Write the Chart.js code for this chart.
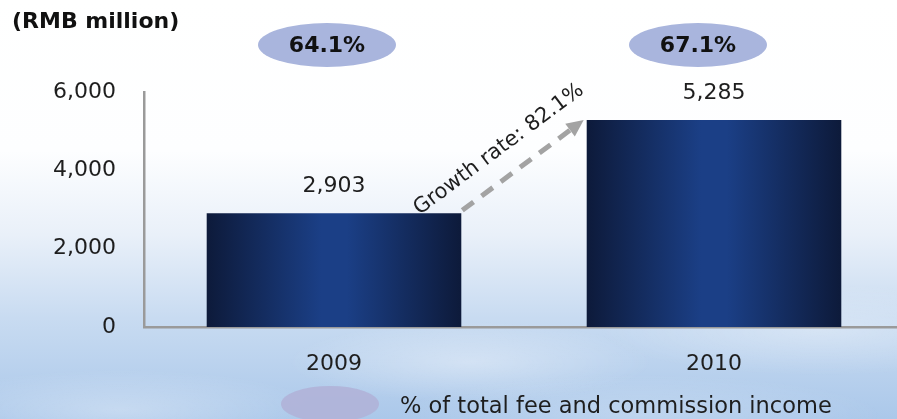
<!DOCTYPE html>
<html>
<head>
<meta charset="utf-8">
<script src="https://cdn.jsdelivr.net/npm/chart.js@4/dist/chart.umd.min.js"></script>
<style>
  html, body { margin: 0; padding: 0; width: 897px; height: 419px; overflow: hidden; }
  body {
    background:
      radial-gradient(ellipse 180px 40px at 470px 362px, rgba(255,255,255,0.35), rgba(255,255,255,0) 100%),
      radial-gradient(ellipse 220px 45px at 820px 330px, rgba(255,255,255,0.3), rgba(255,255,255,0) 100%),
      radial-gradient(ellipse 200px 40px at 120px 410px, rgba(255,255,255,0.3), rgba(255,255,255,0) 100%),
      radial-gradient(ellipse 240px 40px at 640px 415px, rgba(255,255,255,0.22), rgba(255,255,255,0) 100%),
      linear-gradient(to bottom, #ffffff 0%, #fdfeff 36%, #e9f0f9 56%, #c8dbf1 76%, #abc8ea 100%);
  }
  #wrap { position: absolute; left: 0; top: 0; width: 904px; height: 419px; }
</style>
</head>
<body>
<div id="wrap"><canvas id="c" width="904" height="419"></canvas></div>
<script>
// Fee and commission income (RMB million)
const years = ['2009', '2010'];
const income = [2903, 5285];
const shareOfTotal = ['64.1%', '67.1%'];
const growthRate = '82.1%';
const yTicks = [0, 2000, 4000, 6000];
const unitLabel = '(RMB million)';
const legendLabel = '% of total fee and commission income';

const FONT = '"DejaVu Sans", "Noto Sans", sans-serif';
const TEXT = '#1e1e1e';
const AXIS_GREY = '#9a9a9a';
const BAR_FRACTION = 0.67;

// horizontal cylinder-like shading for each bar
function barShade(c) {
  const chart = c.chart;
  if (!chart.chartArea) return '#142d62';
  const xs = chart.scales.x;
  const cx = xs.getPixelForValue(c.dataIndex);
  const half = (xs.width / years.length) * BAR_FRACTION / 2;
  const g = chart.ctx.createLinearGradient(cx - half, 0, cx + half, 0);
  g.addColorStop(0, '#0d1a3a');
  g.addColorStop(0.45, '#1b3f86');
  g.addColorStop(0.55, '#1b3f86');
  g.addColorStop(1, '#0d1a3a');
  return g;
}

const decorations = {
  id: 'decorations',
  afterDatasetsDraw(chart) {
    const ctx = chart.ctx;
    const bars = chart.getDatasetMeta(0).data;

    ctx.save();
    // unit label
    ctx.fillStyle = '#111';
    ctx.font = 'bold 22px ' + FONT;
    ctx.textAlign = 'left';
    ctx.textBaseline = 'middle';
    ctx.fillText(unitLabel, 12, 22);

    // value labels above bars
    ctx.font = '22px ' + FONT;
    ctx.textAlign = 'center';
    ctx.fillStyle = TEXT;
    bars.forEach((el, i) => {
      ctx.fillText(income[i].toLocaleString('en-US'), el.x, el.y - 27);
    });

    // share-of-total ellipses
    const shift = [-7, -16];
    bars.forEach((el, i) => {
      const cx = el.x + shift[i], cy = 45;
      ctx.beginPath();
      ctx.ellipse(cx, cy, 69, 22, 0, 0, Math.PI * 2);
      ctx.fillStyle = '#a9b5dd';
      ctx.fill();
      ctx.fillStyle = '#111';
      ctx.font = 'bold 22px ' + FONT;
      ctx.fillText(shareOfTotal[i], cx, cy + 1);
    });

    // growth arrow between the bars
    const a = bars[0], b = bars[1];
    const x0 = a.x + a.width / 2 + 1, y0 = a.y - 3;
    const x1 = b.x - b.width / 2 - 3, y1 = b.y;
    const ang = Math.atan2(y1 - y0, x1 - x0);
    const len = Math.hypot(x1 - x0, y1 - y0);
    ctx.translate(x0, y0);
    ctx.rotate(ang);
    ctx.strokeStyle = '#a3a3a3';
    ctx.lineWidth = 5;
    ctx.setLineDash([14, 10]);
    ctx.beginPath();
    ctx.moveTo(0, 0);
    ctx.lineTo(len - 14, 0);
    ctx.stroke();
    ctx.setLineDash([]);
    ctx.fillStyle = '#a3a3a3';
    ctx.beginPath();
    ctx.moveTo(len, 0);
    ctx.lineTo(len - 17, -8);
    ctx.lineTo(len - 17, 8);
    ctx.closePath();
    ctx.fill();
    // rotated caption above the arrow
    ctx.fillStyle = TEXT;
    ctx.font = '21px ' + FONT;
    ctx.textAlign = 'center';
    ctx.textBaseline = 'middle';
    ctx.fillText('Growth rate: ' + growthRate, len / 2 - 10, -27);
    ctx.restore();

    // legend
    ctx.save();
    ctx.beginPath();
    ctx.ellipse(330, 404, 49, 18, 0, 0, Math.PI * 2);
    ctx.fillStyle = 'rgba(176, 178, 216, 0.9)';
    ctx.fill();
    ctx.fillStyle = TEXT;
    ctx.font = '22.5px ' + FONT;
    ctx.textAlign = 'left';
    ctx.textBaseline = 'middle';
    ctx.fillText(legendLabel, 400, 407);
    ctx.restore();
  }
};

new Chart(document.getElementById('c'), {
  type: 'bar',
  data: {
    labels: years,
    datasets: [{
      data: income,
      backgroundColor: barShade,
      borderWidth: 0,
      categoryPercentage: 1,
      barPercentage: BAR_FRACTION
    }]
  },
  options: {
    responsive: false,
    animation: false,
    events: [],
    layout: { padding: { top: 92, left: 0, right: 0, bottom: 0 } },
    plugins: { legend: { display: false }, tooltip: { enabled: false } },
    scales: {
      x: {
        grid: { display: false, drawTicks: false },
        border: { display: true, color: AXIS_GREY, width: 2.5 },
        ticks: { color: TEXT, font: { family: FONT, size: 22 }, padding: 24 },
        afterFit(s) { s.height = 92; }
      },
      y: {
        min: 0, max: 6000,
        afterBuildTicks(s) { s.ticks = yTicks.map(v => ({ value: v })); },
        grid: { display: false, drawTicks: false },
        border: { display: true, color: AXIS_GREY, width: 2.5 },
        ticks: { color: TEXT, font: { family: FONT, size: 22 }, padding: 28 },
        afterFit(s) { s.width = 144; }
      }
    }
  },
  plugins: [decorations]
});
</script>
</body>
</html>
